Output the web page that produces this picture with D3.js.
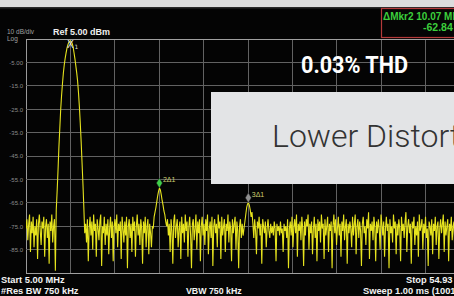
<!DOCTYPE html>
<html>
<head>
<meta charset="utf-8">
<script src="https://cdn.jsdelivr.net/npm/d3@7"></script>
<style>
  html, body { margin: 0; padding: 0; background: #000; }
  svg { display: block; }
  .ann { font-family: "Liberation Sans", Arial, sans-serif; font-weight: bold; }
</style>
</head>
<body>
<div id="chart"></div>
<script>
// sweep settings (from the screen annotation)
const startMHz = 5.00;
const stopMHz = 54.93;
const refDbm = 5.00;
const dbPerDiv = 10;

// y tick labels as shown on the screen
const yTickValues = [-5, -15, -25, -35, -45, -55, -65, -75, -85];
const yTickLabels = ["-5.00", "-15.0", "-25.0", "-35.0", "-45.0", "-55.0", "-65.0", "-75.0", "-85.0"];

// trace amplitude (dBm), evenly spaced sweep points
const traceDbm = [
  -76, -72, -81, -74, -70, -86, -73, -78, -71, -84,
  -75, -79, -72, -89, -74, -70, -77, -83, -73, -76,
  -71, -88, -75, -72, -80, -74, -91, -73, -77, -70,
  -82, -75, -72, -94, -68, -60, -51, -41, -33, -25,
  -19, -14, -9.5, -6, -3.3, -1, 1, 2.5, 3.5, 4,
  4.2, 3.8, 3, 1.5, -1, -3.5, -6.5, -9.5, -13, -18,
  -24, -31, -39, -48, -57, -67, -78, -74, -82, -72,
  -90, -76, -71, -79, -73, -85, -70, -77, -74, -88,
  -72, -76, -81, -73, -70, -92, -75, -78, -71, -83,
  -74, -79, -72, -87, -76, -71, -80, -73, -90, -75,
  -72, -78, -70, -84, -74, -77, -73, -89, -71, -76,
  -82, -73, -79, -71, -93, -75, -72, -80, -74, -86,
  -71, -77, -73, -88, -75, -70, -79, -74, -83, -72,
  -76, -91, -73, -78, -71, -84, -75, -72, -87, -74,
  -78, -84, -75, -76, -71, -69, -67, -64.5, -62, -60,
  -58.7, -59.5, -61.5, -64, -66, -68.5, -70, -73, -75, -72,
  -79, -74, -86, -72, -77, -91, -73, -70, -80, -75,
  -72, -84, -76, -73, -89, -71, -78, -74, -82, -70,
  -77, -73, -88, -75, -71, -79, -93, -74, -72, -81,
  -76, -70, -85, -73, -78, -72, -90, -75, -71, -79,
  -74, -83, -72, -77, -70, -87, -76, -73, -80, -71,
  -92, -75, -72, -78, -74, -84, -70, -76, -73, -89,
  -71, -79, -75, -72, -86, -74, -77, -70, -82, -73,
  -76, -90, -72, -78, -74, -71, -85, -73, -77, -93,
  -75, -72, -80, -74, -79, -76, -73, -70, -67, -65.5,
  -65, -66, -68, -71, -69, -74, -80, -72, -77, -87,
  -73, -76, -71, -79, -74, -91, -72, -75, -78, -73,
  -84, -76, -72, -77, -80, -74, -78, -75, -79, -73,
  -76, -90, -74, -77, -75, -79, -73, -78, -76, -86,
  -74, -77, -75, -80, -72, -93, -76, -73, -79, -71,
  -84, -75, -72, -78, -70, -88, -74, -77, -73, -81,
  -71, -76, -92, -73, -79, -72, -75, -70, -85, -74,
  -78, -73, -87, -76, -71, -80, -74, -90, -72, -77,
  -73, -82, -70, -76, -74, -89, -72, -79, -75, -71,
  -86, -74, -77, -73, -93, -75, -70, -78, -72, -83,
  -76, -71, -79, -74, -88, -73, -77, -70, -81, -75,
  -72, -91, -74, -78, -73, -76, -84, -71, -79, -74,
  -70, -87, -75, -72, -80, -73, -77, -92, -74, -71,
  -78, -75, -83, -72, -76, -69, -89, -74, -77, -73,
  -81, -71, -75, -90, -73, -78, -72, -76, -85, -70,
  -74, -79, -73, -88, -76, -71, -77, -74, -93, -72,
  -78, -75, -82, -70, -76, -73, -87, -74, -79, -72,
  -76, -90, -71, -77, -74, -80, -73, -69, -86, -75,
  -72, -78, -74, -91, -73, -76, -71, -83, -75, -79,
  -73, -88, -70, -77, -75, -72, -85, -74, -78, -71,
  -80, -76, -92, -73, -75, -79, -72, -87, -74, -77,
  -71, -83, -75, -73, -89, -76, -72, -78, -74, -70,
  -86, -73, -79, -75, -72, -90, -74, -77, -71, -81,
  -75, -73, -88, -76, -72, -79, -74, -84, -70, -77,
  -73, -91, -75, -72, -78, -74, -80, -71, -86, -76
];

// markers: frequency (MHz), level (dBm), label
const markerFreqs = [10.0, 20.0, 30.0];
const markerDbm = [4.2, -58.7, -65];
const markerLabels = ["1", "2\u03941", "3\u03941"];

const W = 454, H = 296;
const plot = { left: 26, top: 39, right: 470, bottom: 273 };

const svg = d3.select("#chart").append("svg")
  .attr("width", W).attr("height", H);

svg.append("rect").attr("width", W).attr("height", H).attr("fill", "#040404");
svg.append("rect").attr("width", W).attr("height", 7).attr("fill", "#dcdcdc");
svg.append("rect").attr("y", 7).attr("width", W).attr("height", 1.5).attr("fill", "#2a2a2a");

const x = d3.scaleLinear().domain([startMHz, stopMHz]).range([plot.left, plot.right]);
const y = d3.scaleLinear().domain([refDbm - 10 * dbPerDiv, refDbm]).range([plot.bottom, plot.top]);

// grid
const xDivs = d3.range(0, 11).map(k => startMHz + k * (stopMHz - startMHz) / 10);
const yDivs = d3.range(0, 11).map(k => refDbm - k * dbPerDiv);

const grid = svg.append("g");
grid.selectAll("line.v").data(xDivs).join("line")
  .attr("x1", d => x(d)).attr("x2", d => x(d))
  .attr("y1", plot.top).attr("y2", plot.bottom)
  .attr("stroke", (d, i) => i === 0 ? "#9a9a9a" : "#626262").attr("stroke-width", 1)
  .attr("shape-rendering", "crispEdges");
grid.selectAll("line.h").data(yDivs).join("line")
  .attr("x1", plot.left).attr("x2", plot.right)
  .attr("y1", d => y(d)).attr("y2", d => y(d))
  .attr("stroke", (d, i) => (i === 0 || i === 10) ? "#a0a0a0" : "#626262").attr("stroke-width", 1)
  .attr("shape-rendering", "crispEdges");

// y axis labels
const yAxis = d3.axisLeft(y).tickValues(yTickValues)
  .tickFormat((d, i) => yTickLabels[i]).tickSize(0).tickPadding(3);
const ya = svg.append("g").attr("transform", `translate(${plot.left},0)`).call(yAxis);
ya.select(".domain").remove();
ya.selectAll("text").attr("fill", "#8c8c8c")
  .style("font-family", "Liberation Sans, Arial, sans-serif").style("font-size", "6px");

// trace
const line = d3.line()
  .x((d, i) => x(startMHz + i * (stopMHz - startMHz) / (traceDbm.length - 1)))
  .y(d => y(d));
svg.append("clipPath").attr("id", "clip").append("rect")
  .attr("x", plot.left).attr("y", plot.top - 2)
  .attr("width", plot.right - plot.left).attr("height", plot.bottom - plot.top + 2);
svg.append("path").datum(traceDbm)
  .attr("clip-path", "url(#clip)")
  .attr("d", line)
  .attr("fill", "none")
  .attr("stroke", "#e6e31e")
  .attr("stroke-width", 1.1)
  .attr("stroke-linejoin", "miter");

// marker 1: X symbol
const m1x = x(markerFreqs[0]), m1y = y(markerDbm[0]);
svg.append("text").attr("x", m1x).attr("y", m1y + 7)
  .attr("text-anchor", "middle").attr("fill", "#e0e0e0")
  .style("font-family", "DejaVu Sans, sans-serif").style("font-size", "10px").text("X");
svg.append("text").attr("x", m1x + 4).attr("y", m1y + 8)
  .attr("fill", "#d8d8d8").style("font-family", "DejaVu Sans, sans-serif")
  .style("font-size", "6px").text(markerLabels[0]);

// delta markers: diamonds
const diamond = (cx, by) => `M${cx},${by} L${cx + 3},${by - 5} L${cx},${by - 10} L${cx - 3},${by - 5} Z`;
const dColors = [null, "#3fcf4a", "#8f8f8f"];
[1, 2].forEach(i => {
  const cx = x(markerFreqs[i]), cy = y(markerDbm[i]);
  svg.append("path").attr("d", diamond(cx, cy))
    .attr("fill", dColors[i]).attr("stroke", "#202020").attr("stroke-width", 0.5);
  svg.append("text").attr("x", cx + 3.5).attr("y", cy - 6)
    .attr("fill", "#cfcf70").style("font-family", "Liberation Sans, Arial, sans-serif")
    .style("font-size", "7px").text(markerLabels[i]);
});

// header annotations
svg.append("text").attr("x", 7).attr("y", 33.5).attr("fill", "#a0a0a0")
  .style("font-family", "Liberation Sans, Arial, sans-serif").style("font-size", "6.5px").text("10 dB/div");
svg.append("text").attr("x", 7).attr("y", 40.5).attr("fill", "#a0a0a0")
  .style("font-family", "Liberation Sans, Arial, sans-serif").style("font-size", "6.5px").text("Log");
svg.append("text").attr("class", "ann").attr("x", 53).attr("y", 35).attr("fill", "#f0f0f0")
  .style("font-size", "9px").text("Ref 5.00 dBm");

// delta marker readout box
svg.append("rect").attr("x", 381.5).attr("y", 8.5).attr("width", 90).attr("height", 29)
  .attr("fill", "#050505").attr("stroke", "#b43a3a").attr("stroke-width", 1.2);
svg.append("text").attr("class", "ann").attr("x", 383).attr("y", 20).attr("fill", "#3ccf3c")
  .style("font-size", "10px").text("\u0394Mkr2 10.07 MHz");
svg.append("text").attr("class", "ann").attr("x", 423).attr("y", 30.5).attr("fill", "#3ccf3c")
  .style("font-size", "10.5px").text("-62.84 dB");

// footer annotations
const foot = svg.append("g").attr("class", "ann").attr("fill", "#f2f2f2").style("font-size", "9.3px");
foot.append("text").attr("x", 1).attr("y", 283).text("Start 5.00 MHz");
foot.append("text").attr("x", 1).attr("y", 294).text("#Res BW 750 kHz");
foot.append("text").attr("x", 186).attr("y", 294).style("font-size", "8.8px").text("VBW 750 kHz");
foot.append("text").attr("x", 406).attr("y", 283).text("Stop 54.93 MHz");
foot.append("text").attr("x", 363).attr("y", 294).text("Sweep  1.00 ms (1001 pts)");

// overlay callouts
svg.append("text").attr("x", 301).attr("y", 73).attr("fill", "#ffffff")
  .style("font-family", "Roboto, sans-serif").style("font-weight", "bold").style("font-size", "24px")
  .attr("textLength", 107).attr("lengthAdjust", "spacingAndGlyphs").text("0.03% THD");
svg.append("rect").attr("x", 211).attr("y", 92).attr("width", 260).attr("height", 92)
  .attr("fill", "#e3e4e6");
svg.append("text").attr("x", 272).attr("y", 147).attr("fill", "#333333")
  .style("font-family", "Roboto, sans-serif").style("font-weight", 300).style("font-size", "32px")
  .text("Lower Distortion");
</script>
</body>
</html>
